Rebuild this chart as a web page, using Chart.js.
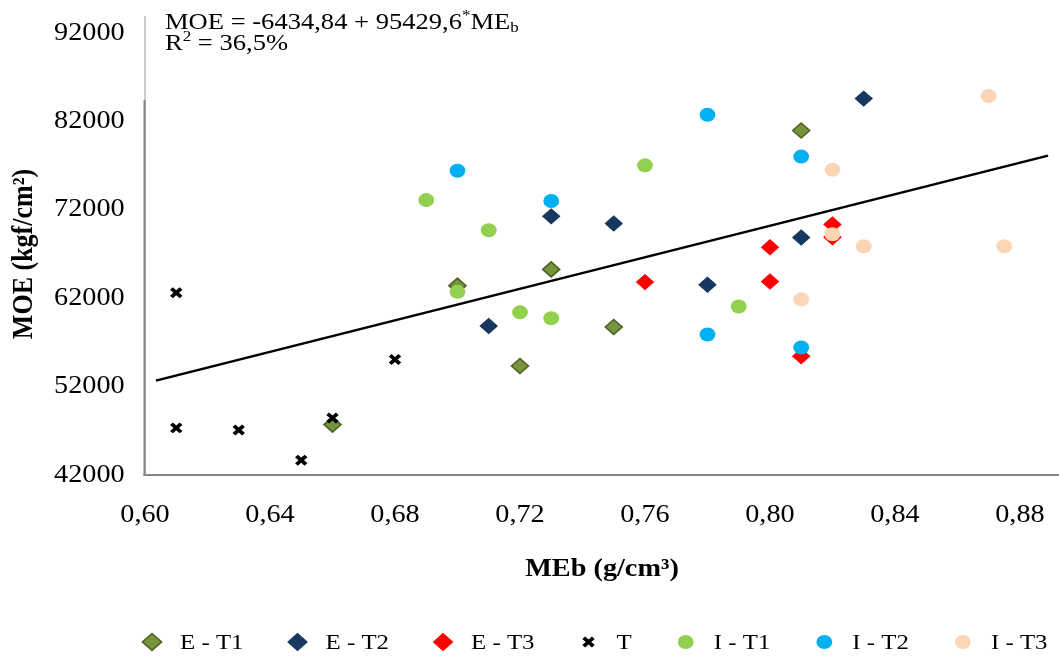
<!DOCTYPE html>
<html>
<head>
<meta charset="utf-8">
<script src="https://cdn.jsdelivr.net/npm/chart.js@4.4.0/dist/chart.umd.min.js"></script>
<style>
html,body{margin:0;padding:0;background:#fff;}
#wrap{width:1059px;height:657px;}
</style>
</head>
<body>
<div id="wrap"><canvas id="c" width="1059" height="657"></canvas></div>
<script>
// ---------- data ----------
const seriesNames = ['E - T1', 'E - T2', 'E - T3', 'T', 'I - T1', 'I - T2', 'I - T3'];

const eT1X = [0.66, 0.70, 0.72, 0.73, 0.75, 0.81];
const eT1Y = [47700, 63420, 54330, 65260, 58740, 80970];

const eT2X = [0.71, 0.73, 0.75, 0.78, 0.81, 0.83];
const eT2Y = [58860, 71260, 70450, 63530, 68860, 84580];

const eT3X = [0.76, 0.80, 0.80, 0.81, 0.82, 0.82];
const eT3Y = [63820, 67760, 63890, 55430, 70340, 68900];

const tX = [0.61, 0.61, 0.63, 0.65, 0.66, 0.68];
const tY = [62610, 47330, 47080, 43660, 48440, 55060];

const iT1X = [0.69, 0.70, 0.71, 0.72, 0.73, 0.76, 0.79];
const iT1Y = [73100, 62720, 69680, 60400, 59740, 77030, 61060];

const iT2X = [0.70, 0.73, 0.78, 0.78, 0.81, 0.81];
const iT2Y = [76410, 73000, 82750, 57900, 78020, 56430];

const iT3X = [0.81, 0.82, 0.82, 0.83, 0.87, 0.875];
const iT3Y = [61870, 76520, 69240, 67870, 84870, 67870];

// trend line end points
const trendX = [0.6035, 0.889];
const trendY = [52680, 78130];

const xTicks = [0.60, 0.64, 0.68, 0.72, 0.76, 0.80, 0.84, 0.88];
const xTickLabels = ['0,60', '0,64', '0,68', '0,72', '0,76', '0,80', '0,84', '0,88'];
const yTicks = [42000, 52000, 62000, 72000, 82000, 92000];
const yTickLabels = ['42000', '52000', '62000', '72000', '82000', '92000'];

const eqLine1 = ['MOE = -6434,84 + 95429,6', '*', 'ME', 'b'];
const eqLine2 = ['R', '2', ' = 36,5%'];

// ---------- styles ----------
const S = 1.13; // horizontal stretch of the original picture
const FONT = '"Liberation Serif", "Times New Roman", serif';

const styles = [
  {pointStyle: 'rectRot', pointRadius: 7.5, backgroundColor: '#77933C', borderColor: '#4F6228', borderWidth: 1.5},
  {pointStyle: 'rectRot', pointRadius: 7.5, backgroundColor: '#17375E', borderColor: '#17375E', borderWidth: 1},
  {pointStyle: 'rectRot', pointRadius: 7.5, backgroundColor: '#FF0000', borderColor: '#FF0000', borderWidth: 1},
  {pointStyle: 'crossRot', pointRadius: 6, backgroundColor: '#000000', borderColor: '#000000', borderWidth: 3.5},
  {pointStyle: 'circle', pointRadius: 7, backgroundColor: '#92D050', borderColor: '#92D050', borderWidth: 0},
  {pointStyle: 'circle', pointRadius: 7, backgroundColor: '#00B0F0', borderColor: '#00B0F0', borderWidth: 0},
  {pointStyle: 'circle', pointRadius: 7, backgroundColor: '#FCD5B5', borderColor: '#FCD5B5', borderWidth: 0}
];

const seriesX = [eT1X, eT2X, eT3X, tX, iT1X, iT2X, iT3X];
const seriesY = [eT1Y, eT2Y, eT3Y, tY, iT1Y, iT2Y, iT3Y];

const datasets = seriesNames.map((name, i) => Object.assign({
  label: name,
  type: 'scatter',
  data: seriesX[i].map((x, j) => ({x: x, y: seriesY[i][j]})),
  showLine: false,
  order: -i,
  pointHoverRadius: styles[i].pointRadius
}, styles[i]));

datasets.push({
  label: 'trend',
  type: 'line',
  data: trendX.map((x, j) => ({x: x, y: trendY[j]})),
  borderColor: '#000000',
  borderWidth: 2.5,
  pointRadius: 0,
  fill: false,
  order: -20
});

function drawMarker(ctx, st, x, y, r) {
  ctx.save();
  ctx.fillStyle = st.backgroundColor;
  ctx.strokeStyle = st.borderColor;
  ctx.lineWidth = st.borderWidth;
  ctx.beginPath();
  if (st.pointStyle === 'rectRot') {
    ctx.moveTo(x - r, y); ctx.lineTo(x, y - r); ctx.lineTo(x + r, y); ctx.lineTo(x, y + r); ctx.closePath();
    ctx.fill(); if (st.borderWidth > 0) ctx.stroke();
  } else if (st.pointStyle === 'crossRot') {
    const d = r * Math.SQRT1_2;
    ctx.moveTo(x - d, y - d); ctx.lineTo(x + d, y + d);
    ctx.moveTo(x - d, y + d); ctx.lineTo(x + d, y - d);
    ctx.stroke();
  } else {
    ctx.arc(x, y, r, 0, Math.PI * 2); ctx.closePath(); ctx.fill();
  }
  ctx.restore();
}

const stretchPlugin = {
  id: 'stretch',
  beforeDraw(chart) {
    chart.ctx.save();
    chart.ctx.scale(S, 1);
  },
  afterDraw(chart) {
    const ctx = chart.ctx;
    // text box edge over top of the y axis
    ctx.save();
    ctx.fillStyle = '#ffffff';
    ctx.fillRect(124, 12, 8, 88);
    ctx.strokeStyle = '#A6A6A6';
    ctx.lineWidth = 1;
    ctx.beginPath();
    ctx.moveTo(128.3, 16); ctx.lineTo(128.3, 100);
    ctx.stroke();
    ctx.restore();

    // equation text
    ctx.save();
    ctx.fillStyle = '#000';
    ctx.textBaseline = 'alphabetic';
    ctx.textAlign = 'left';
    const big = '23.5px ' + FONT, small = '15px ' + FONT;
    let x = 165 / S; const y1 = 29, y2 = 50;
    ctx.font = big; ctx.fillText(eqLine1[0], x, y1); x += ctx.measureText(eqLine1[0]).width;
    ctx.font = small; ctx.fillText(eqLine1[1], x, y1 - 9); x += ctx.measureText(eqLine1[1]).width;
    ctx.font = big; ctx.fillText(eqLine1[2], x, y1); x += ctx.measureText(eqLine1[2]).width;
    ctx.font = small; ctx.fillText(eqLine1[3], x, y1 + 3);
    x = 165 / S;
    ctx.font = big; ctx.fillText(eqLine2[0], x, y2); x += ctx.measureText(eqLine2[0]).width;
    ctx.font = small; ctx.fillText(eqLine2[1], x, y2 - 9); x += ctx.measureText(eqLine2[1]).width;
    ctx.font = big; ctx.fillText(eqLine2[2], x, y2);
    ctx.restore();

    // legend (entries sized by their text, as in the original)
    ctx.save();
    const ly = 642;
    ctx.font = '22px ' + FONT;
    ctx.fillStyle = '#000';
    ctx.textBaseline = 'middle';
    ctx.textAlign = 'left';
    let mx = 152 / S;
    seriesNames.forEach((name, i) => {
      const st = styles[i];
      const r = st.pointStyle === 'rectRot' ? 8.5 : (st.pointStyle === 'crossRot' ? 6 : 7);
      drawMarker(ctx, st, mx, ly, r);
      const tx = mx + 28 / S;
      ctx.fillText(name, tx, ly + 1);
      mx = tx + ctx.measureText(name).width + 54 / S;
    });
    ctx.restore();

    ctx.restore();
  }
};

new Chart(document.getElementById('c'), {
  type: 'scatter',
  data: {datasets: datasets},
  options: {
    responsive: false,
    animation: false,
    events: [],
    layout: {padding: {left: 0, top: 22, right: 1059 - 1059 / S, bottom: 72}},
    plugins: {
      legend: {display: false},
      tooltip: {enabled: false}
    },
    scales: {
      x: {
        type: 'linear',
        min: 0.60,
        max: 0.8925,
        afterBuildTicks: (axis) => { axis.ticks = xTicks.map(v => ({value: v})); },
        afterFit: (scale) => { scale.height = 110; },
        grid: {drawOnChartArea: false, drawTicks: false},
        border: {display: true, color: '#868686', width: 2},
        ticks: {
          padding: 25,
          maxRotation: 0,
          autoSkip: false,
          color: '#000',
          font: {family: FONT, size: 25},
          callback: (v, i) => xTickLabels[i]
        },
        title: {
          display: true,
          text: 'MEb (g/cm³)',
          color: '#000',
          font: {family: FONT, size: 25, weight: 'bold'},
          padding: {top: 0, bottom: 0}
        }
      },
      y: {
        type: 'linear',
        min: 42000,
        max: 92000,
        afterBuildTicks: (axis) => { axis.ticks = yTicks.map(v => ({value: v})); },
        afterFit: (scale) => { scale.width = 145 / S; },
        grid: {drawOnChartArea: false, drawTicks: false},
        border: {display: true, color: '#868686', width: 2},
        ticks: {
          padding: 18,
          autoSkip: false,
          color: '#000',
          font: {family: FONT, size: 25},
          callback: (v, i) => yTickLabels[i]
        },
        title: {
          display: true,
          text: 'MOE (kgf/cm²)',
          color: '#000',
          font: {family: FONT, size: 26, weight: 'bold'},
          padding: {top: 6, bottom: 0}
        }
      }
    }
  },
  plugins: [stretchPlugin]
});
</script>
</body>
</html>
